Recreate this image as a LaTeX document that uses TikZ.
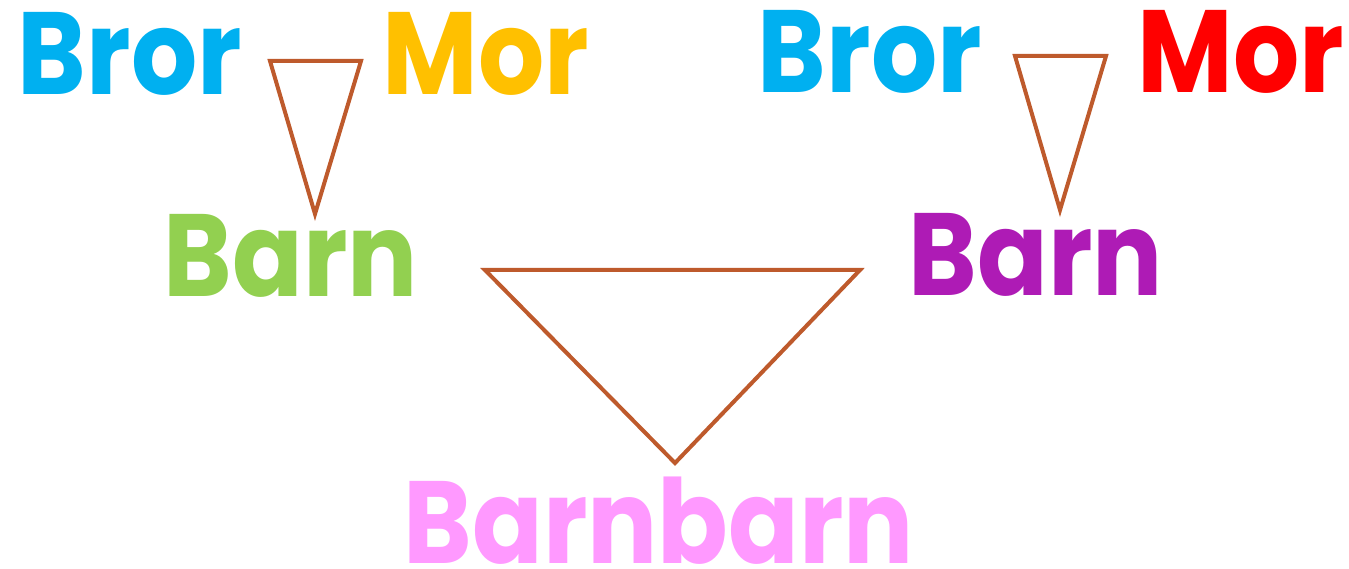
\documentclass[tikz,border=0pt]{standalone}
\usepackage{fontspec}
\setmainfont{Poppins}[BoldFont={* Bold}, FakeStretch=0.89]

\begin{document}
\begin{tikzpicture}[x=1pt, y=-1pt]
    % Define colours
    \definecolor{brorColour}{HTML}{00B0F0}
    \definecolor{morColour}{HTML}{FFC000}
    \definecolor{morRedColour}{HTML}{FF0000}
    \definecolor{barnColour}{HTML}{92D050}
    \definecolor{barnPurpleColour}{HTML}{AE1BB5}
    \definecolor{barnbarnColour}{HTML}{FF99FF}
    \definecolor{lineColour}{HTML}{BE5A2C}

    % Styles
    \tikzset{
        word/.style={anchor=base, inner sep=0pt, text depth=0pt, font=\fontsize{117}{117}\selectfont\bfseries},
        link/.style={draw=lineColour, line width=4pt, line join=miter}
    }

    % Fix the page size
    \useasboundingbox (0,0) rectangle (1349,569);

    % Words on the top row
    \node[word, text=brorColour] (bror1) at (130,95) {Bror};
    \node[word, text=morColour] (mor1) at (486,95) {Mor};
    \node[word, text=brorColour] (bror2) at (870,93) {Bror};
    \node[word, text=morRedColour] (mor2) at (1241,93) {Mor};

    % Children
    \node[word, text=barnColour] (barn1) at (291,297) {Barn};
    \node[word, text=barnPurpleColour] (barn2) at (1036,295) {Barn};

    % Grandchild
    \node[word, text=barnbarnColour] (barnbarn) at (659,563) {Barnbarn};

    % Left small triangle
    \draw[link] (270,61) -- (361,61) -- (315,214) -- cycle;

    % Right small triangle
    \draw[link] (1015,56) -- (1106,56) -- (1060,210) -- cycle;

    % Big triangle
    \draw[link] (485,270) -- (860,270) -- (675,463) -- cycle;

\end{tikzpicture}
\end{document}
